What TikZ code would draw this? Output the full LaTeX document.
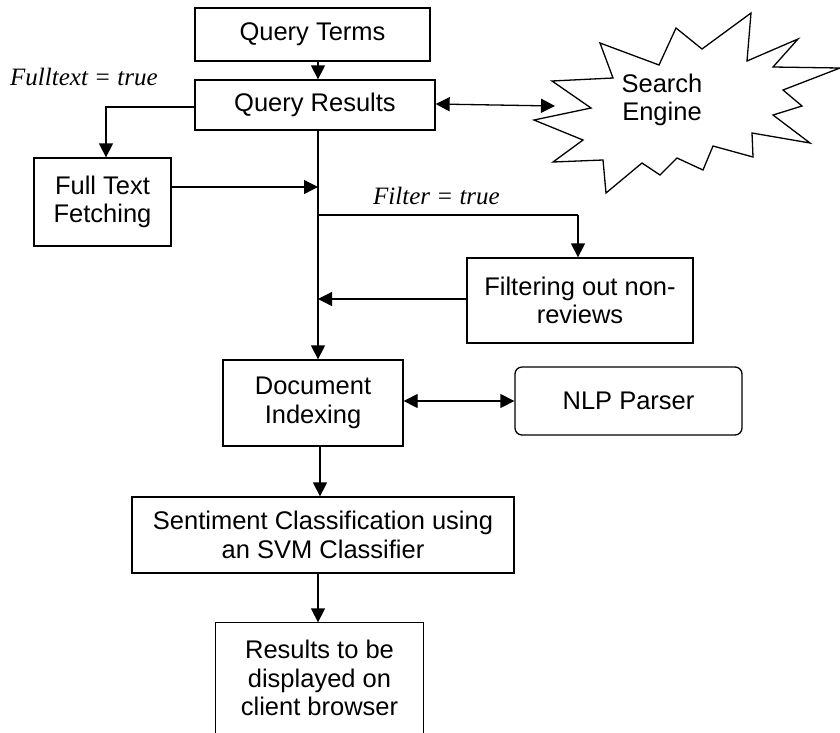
\documentclass[tikz,border=0pt]{standalone}
\usepackage{fontspec}
\setmainfont{Liberation Sans}
\newfontfamily\tms{Liberation Serif}
\usetikzlibrary{arrows.meta}
\tikzset{
  box/.style={draw, line width=1.3pt, align=center, inner sep=0pt,
    font=\fontsize{25.5}{28.5}\selectfont},
  lbl/.style={font=\tms\itshape\fontsize{25}{28}\selectfont, inner sep=0pt},
  arr/.style={line width=1.3pt, -{Triangle[length=14pt,width=14pt]}},
  darr/.style={line width=1.3pt, {Triangle[length=14pt,width=14pt]}-{Triangle[length=14pt,width=14pt]}},
  ln/.style={line width=1.3pt}
}
\begin{document}
\begin{tikzpicture}[x=1pt,y=-1pt]
\useasboundingbox (0,0) rectangle (840,732);
\clip (0,0) rectangle (840,732);
\fill[white] (0,0) rectangle (840,732);

% boxes
\node[box, minimum width=235, minimum height=53] (qt) at (312.5,34.5) {Query Terms};
\node[box, minimum width=240, minimum height=50] (qr) at (315,105) {Query Results};
\node[box, minimum width=137, minimum height=88] (ft) at (102.5,202) {Full Text\\Fetching};
\node[box, minimum width=226, minimum height=85] (fr) at (580,300.5) {Filtering out non-\\reviews};
\node[box, minimum width=180, minimum height=86] (di) at (313,403) {Document\\Indexing};
\node[box, minimum width=227, minimum height=68, rounded corners=7pt] (nlp) at (628.5,401) {NLP Parser};
\node[box, minimum width=382, minimum height=76] (sc) at (323,535) {Sentiment Classification using\\an SVM Classifier};
\node[box, draw=none, minimum width=207, minimum height=110] (res) at (319.5,678) {Results to be\\displayed on\\client browser};
\draw[ln] ([yshift=-12pt]res.south west) -- (res.north west) -- (res.north east) -- ([yshift=-12pt]res.south east);

% search engine star
\draw[ln, line join=miter, fill=white] (552,81) -- (613,78) -- (600,43) -- (659,65) -- (676,28) -- (702,49)
  -- (751,13) -- (747,61) -- (798,39) -- (773,67) -- (840,68) -- (783,90) -- (802,106)
  -- (773,115) -- (810,143) -- (752,133) -- (753,157) -- (713,146) -- (703,170)
  -- (677,158) -- (660,175) -- (642,163) -- (606,193) -- (603,160) -- (553,162)
  -- (583,140) -- (534,120) -- (591,108) -- cycle;
\node[box, draw=none] (se) at (662,100) {Search\\Engine};
\coordinate (seL) at (555,106);

% labels
\node[lbl, anchor=base west] (l1) at (10,85) {Fulltext = true};
\node[lbl, anchor=base west] (l2) at (373,204) {Filter = true};

% connectors
\coordinate (mx) at (318,0);
\coordinate (ftx) at (106,0);
\coordinate (fx) at (578,0);
\coordinate (j1) at (318,215);
\coordinate (j2) at (578,215);
\draw[arr] (qt.south -| mx) -- (qr.north -| mx);
\draw[darr] ([yshift=1pt]qr.east) -- (seL);
\draw[arr] ([yshift=-2pt]qr.west) -| (ft.north -| ftx);
\draw[arr] (ft.east |- 0,187) -- (mx |- 0,187);
\draw[arr] (qr.south -| mx) -- (di.north -| mx);
\draw[ln] (j1) -- (j2);
\draw[arr] (j2) -- (fr.north -| fx);
\draw[arr] (fr.west |- 0,299) -- (mx |- 0,299);
\draw[darr] (di.east |- 0,401) -- (nlp.west |- 0,401);
\draw[arr] (di.south -| 320,0) -- (sc.north -| 320,0);
\draw[arr] (sc.south -| mx) -- (res.north -| mx);
\end{tikzpicture}
\end{document}
